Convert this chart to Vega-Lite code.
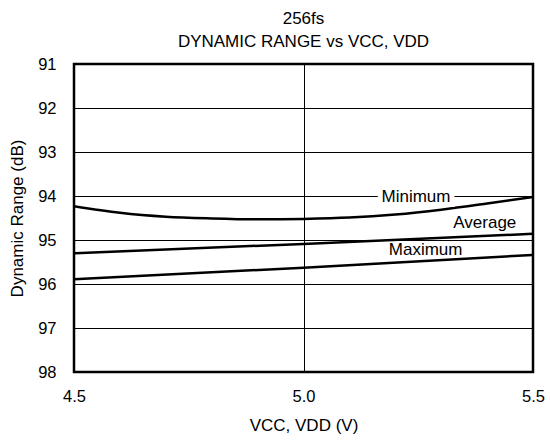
{
  "$schema": "https://vega.github.io/schema/vega-lite/v6.json",
  "autosize": {"type": "none"},
  "width": 459,
  "height": 308,
  "padding": {"left": 74, "top": 64, "right": 17, "bottom": 69},
  "background": "white",
  "config": {
    "font": "Liberation Sans",
    "view": {"stroke": "black", "strokeWidth": 2.5},
    "axis": {
      "labelFont": "Liberation Sans",
      "titleFont": "Liberation Sans",
      "labelFontSize": 16.5,
      "titleFontSize": 17,
      "titleFontWeight": "normal",
      "labelColor": "black",
      "titleColor": "black",
      "ticks": false,
      "domain": false,
      "gridColor": "black",
      "gridOpacity": 1,
      "gridWidth": 1
    }
  },
  "title": {
    "text": ["256fs", "DYNAMIC RANGE vs VCC, VDD"],
    "font": "Liberation Sans",
    "fontSize": 17,
    "fontWeight": "normal",
    "color": "black",
    "lineHeight": 23,
    "offset": 5,
    "anchor": "middle"
  },
  "datasets": {
    "curves": [
      {"curve": "Minimum", "v": 4.5, "dr": 94.23},
      {"curve": "Minimum", "v": 4.6, "dr": 94.38},
      {"curve": "Minimum", "v": 4.7, "dr": 94.47},
      {"curve": "Minimum", "v": 4.8, "dr": 94.51},
      {"curve": "Minimum", "v": 4.9, "dr": 94.53},
      {"curve": "Minimum", "v": 5.0, "dr": 94.52},
      {"curve": "Minimum", "v": 5.1, "dr": 94.49},
      {"curve": "Minimum", "v": 5.2, "dr": 94.42},
      {"curve": "Minimum", "v": 5.3, "dr": 94.31},
      {"curve": "Minimum", "v": 5.4, "dr": 94.17},
      {"curve": "Minimum", "v": 5.5, "dr": 94.02},
      {"curve": "Average", "v": 4.5, "dr": 95.3},
      {"curve": "Average", "v": 5.0, "dr": 95.09},
      {"curve": "Average", "v": 5.5, "dr": 94.86},
      {"curve": "Maximum", "v": 4.5, "dr": 95.89},
      {"curve": "Maximum", "v": 5.0, "dr": 95.63},
      {"curve": "Maximum", "v": 5.5, "dr": 95.34}
    ],
    "labels": [
      {"label": "Minimum", "v": 5.245, "dr": 94.02},
      {"label": "Average", "v": 5.395, "dr": 94.61},
      {"label": "Maximum", "v": 5.266, "dr": 95.23}
    ]
  },
  "layer": [
    {
      "data": {"name": "curves"},
      "mark": {"type": "line", "color": "black", "strokeWidth": 2.5, "interpolate": "monotone", "clip": true},
      "encoding": {
        "x": {
          "field": "v", "type": "quantitative",
          "scale": {"domain": [4.5, 5.5], "nice": false, "zero": false},
          "axis": {"values": [4.5, 5.0, 5.5], "format": ".1f", "title": "VCC, VDD (V)", "labelPadding": 16, "titlePadding": 13, "labelFlush": false, "grid": true}
        },
        "y": {
          "field": "dr", "type": "quantitative",
          "scale": {"domain": [91, 98], "reverse": true, "nice": false, "zero": false},
          "axis": {"values": [91, 92, 93, 94, 95, 96, 97, 98], "title": "Dynamic Range (dB)", "labelPadding": 18, "titlePadding": 11, "labelFlush": false, "grid": true}
        },
        "detail": {"field": "curve"}
      }
    },
    {
      "data": {"name": "labels"},
      "transform": [{"filter": "datum.label == 'Minimum'"}],
      "mark": {"type": "text", "fontSize": 17, "font": "Liberation Sans", "stroke": "white", "strokeWidth": 10, "fill": "white", "align": "center", "baseline": "middle"},
      "encoding": {
        "x": {"field": "v", "type": "quantitative"},
        "y": {"field": "dr", "type": "quantitative"},
        "text": {"field": "label"}
      }
    },
    {
      "data": {"name": "labels"},
      "mark": {"type": "text", "fontSize": 17, "font": "Liberation Sans", "color": "black", "align": "center", "baseline": "middle"},
      "encoding": {
        "x": {"field": "v", "type": "quantitative"},
        "y": {"field": "dr", "type": "quantitative"},
        "text": {"field": "label"}
      }
    }
  ]
}
